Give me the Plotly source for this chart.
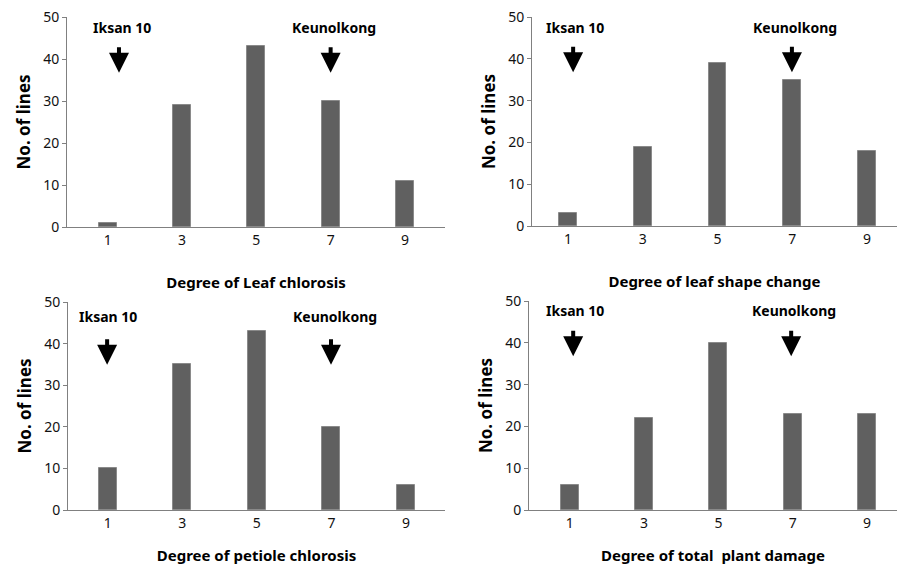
import plotly.graph_objects as go

categories = [1, 3, 5, 7, 9]
tick_labels = ["1", "3", "5", "7", "9"]
leaf_chlorosis = [1, 29, 43, 30, 11]
leaf_shape_change = [3, 19, 39, 35, 18]
petiole_chlorosis = [10, 35, 43, 20, 6]
total_plant_damage = [6, 22, 40, 23, 23]
x_titles = ["Degree of Leaf chlorosis", "Degree of leaf shape change",
            "Degree of petiole chlorosis", "Degree of total  plant damage"]
y_title = "No. of lines"
cultivar_low = "Iksan 10"
cultivar_high = "Keunolkong"

series = [leaf_chlorosis, leaf_shape_change, petiole_chlorosis, total_plant_damage]

W, H = 897, 565
FONT = "Noto Sans"
BAR = "#606060"

# panel geometry (pixels): left, right, top, bottom, xrange, x-title standoff
panels = [
    dict(l=67, r=445, t=17, b=227, xr=[-0.1, 10.08], so=29),
    dict(l=532, r=897, t=17, b=226, xr=[0.04, 9.8], so=29),
    dict(l=68, r=445, t=302, b=510, xr=[-0.07, 10.05], so=21),
    dict(l=529, r=897, t=301, b=510, xr=[-0.1, 9.81], so=21),
]
# annotation positions in data units: (text_x_low, arrow_x_low, text_x_high, arrow_x_high, text_y, tip_y)
ann_pos = [
    (1.38, 1.3, 7.1, 7.0, 47.6, 36.7),
    (1.19, 1.14, 7.07, 6.99, 47.6, 36.8),
    (1.0, 0.98, 7.1, 6.99, 46.4, 34.9),
    (1.14, 1.09, 7.04, 6.96, 47.8, 36.8),
]

fig = go.Figure()
annotations = []
for i, (vals, p) in enumerate(zip(series, panels)):
    n = "" if i == 0 else str(i + 1)
    xa, ya = "x" + n, "y" + n
    fig.add_trace(go.Bar(x=categories, y=vals, width=0.48, xaxis=xa, yaxis=ya,
                         marker=dict(color=BAR, line=dict(color="#8a8a8a", width=1)),
                         showlegend=False))
    fig.layout["xaxis" + n] = dict(
        domain=[p["l"] / W, p["r"] / W], range=p["xr"], anchor=ya, automargin=False,
        tickmode="array", tickvals=categories, ticktext=tick_labels,
        showline=True, linecolor="#808080", linewidth=1, ticks="",
        showgrid=False, zeroline=False,
        tickfont=dict(family=FONT, size=14, color="#111"),
        title=dict(text=x_titles[i], standoff=p["so"],
                   font=dict(family=FONT, size=15, color="#000", weight="bold")),
    )
    fig.layout["yaxis" + n] = dict(
        domain=[1 - p["b"] / H, 1 - p["t"] / H], range=[0, 50], anchor=xa, automargin=False,
        tickmode="linear", tick0=0, dtick=10,
        showline=True, linecolor="#808080", linewidth=1, ticks="outside",
        ticklen=4, tickcolor="#808080",
        showgrid=False, zeroline=False,
        tickfont=dict(family=FONT, size=14, color="#111"),
        title=dict(text=y_title, standoff=8,
                   font=dict(family=FONT, size=17, color="#000", weight="bold")),
    )
    tx1, ax1, tx2, ax2, ty, tip = ann_pos[i]
    for txt, tx, axx in [(cultivar_low, tx1, ax1), (cultivar_high, tx2, ax2)]:
        annotations.append(dict(x=tx, y=ty, xref=xa, yref=ya, text=txt, showarrow=False,
                                font=dict(family=FONT, size=14, color="#000", weight="bold")))
        annotations.append(dict(x=axx, y=tip, xref=xa, yref=ya, text="", showarrow=True,
                                ax=0, ay=-27, arrowhead=2, arrowsize=1, arrowwidth=4,
                                arrowcolor="#000"))

fig.update_layout(width=W, height=H, margin=dict(l=0, r=0, t=0, b=0),
                  plot_bgcolor="white", paper_bgcolor="white",
                  annotations=annotations, bargap=0)
fig.write_html("out.html", config={"displayModeBar": False},
               post_script="document.body.style.margin='0';document.body.style.overflow='hidden';")
